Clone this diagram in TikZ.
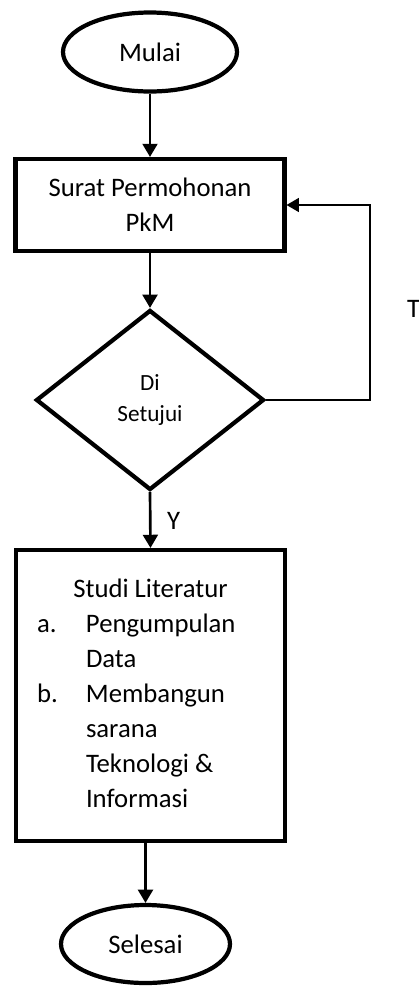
\documentclass[tikz,border=0pt]{standalone}
\usepackage{fontspec}
\setmainfont{Carlito}
\usepackage{xcolor}
\usepackage{tikz}
\usetikzlibrary{positioning,calc,shapes.geometric,arrows.meta}
\tikzset{
    flowarrow/.style={draw=black, line width=1.9pt, -{Triangle[length=0.33cm, width=0.37cm]}},
    backline/.style={draw=black, line width=1.1pt, -{Triangle[length=0.31cm, width=0.35cm]}}
}

\begin{document}
\begin{tikzpicture}[
        % --- STYLE ---
        terminal/.style={
            ellipse,
            draw=black,
            line width=3pt,
            inner sep=0pt,
            font=\fontsize{19}{25}\selectfont
        },
        procbox/.style={
            rectangle,
            draw=black,
            line width=2.9pt,
            minimum width=6.725cm,
            inner sep=0pt,
            align=center,
            font=\fontsize{19}{25}\selectfont
        },
        decision/.style={
            diamond,
            draw=black,
            line width=3pt,
            minimum width=5.7cm,
            minimum height=4.5cm,
            inner sep=0pt,
            align=center,
            font=\fontsize{16.5}{22}\selectfont
        },
        label_text/.style={
            inner sep=0pt,
            font=\fontsize{19}{25}\selectfont
        }
    ]
        \useasboundingbox (0,0) rectangle (10.475,-24.725);

        % --- CÁC NÚT ---
        \node[terminal, minimum width=4.35cm, minimum height=1.975cm] (mulai) at (3.75,-1.3) {Mulai};
        \node[procbox, minimum height=2.3cm] (surat) at (3.75,-5.125) {Surat Permohonan\\PkM};
        \node[decision] (setuju) at (3.75,-10.0) {Di\\Setujui};
        \node[procbox, minimum height=7.275cm] (studi) at (3.7625,-17.3875) {%
            \begin{tabular}{@{}p{1.225cm}@{}p{4.45cm}@{}}
                \multicolumn{2}{c}{Studi Literatur}\\
                a. & Pengumpulan\\
                   & Data\\
                b. & Membangun\\
                   & sarana\\
                   & Teknologi \&\\
                   & Informasi
            \end{tabular}};
        \node[terminal, minimum width=4.225cm, minimum height=1.95cm] (selesai) at (3.6375,-23.6) {Selesai};

        % --- PANAH ---
        \draw[flowarrow] (mulai.south) -- (surat.north);
        \draw[flowarrow] (surat.south) -- (setuju.north);
        \draw[flowarrow] (setuju.south) -- (studi.north);
        \draw[flowarrow] (studi.south -| selesai.north) -- (selesai.north);
        \draw[backline] (setuju.east) -- ++(2.6,0) |- (surat.east);

        % --- LABEL ---
        \node[label_text] (ylabel) at (4.34,-13.03) {Y};
        \node[label_text, anchor=west] (tlabel) at (10.17,-7.725) {T};

    \end{tikzpicture}
\end{document}
